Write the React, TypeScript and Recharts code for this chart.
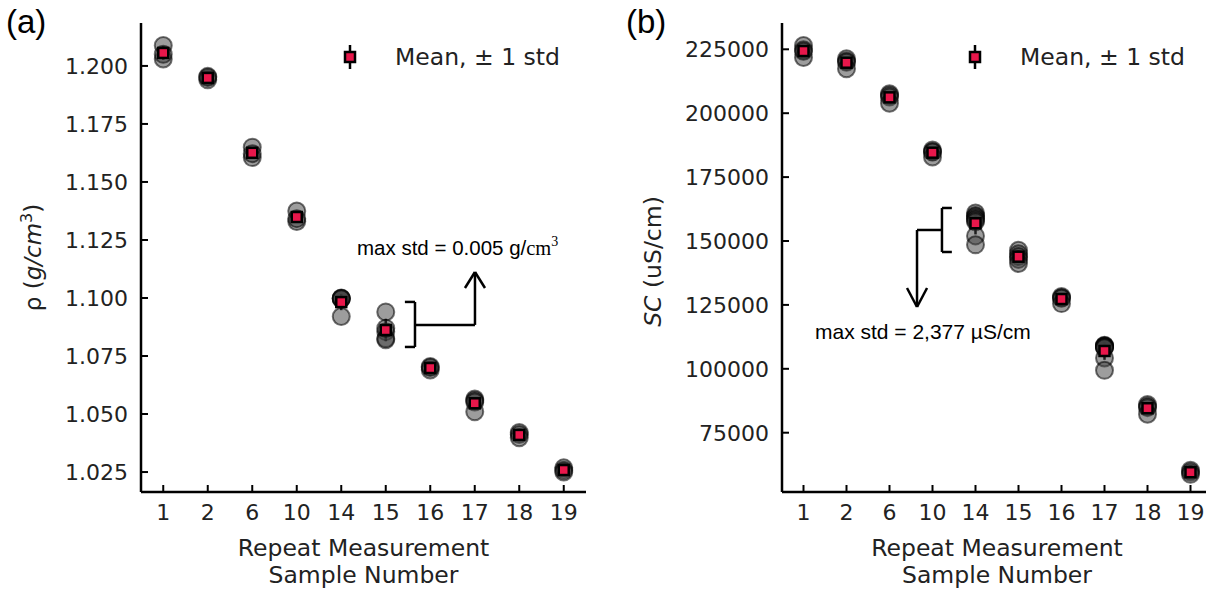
import { ScatterChart, Scatter, XAxis, YAxis, ErrorBar, ReferenceLine, ReferenceDot } from "recharts";

const samples = [1, 2, 6, 10, 14, 15, 16, 17, 18, 19];

// individual repeat measurements per sample
const rhoReplicates = [
  [1.2088, 1.203, 1.205],
  [1.1955, 1.194, 1.195],
  [1.165, 1.1605, 1.1622],
  [1.1375, 1.133, 1.1342],
  [1.1, 1.0998, 1.0996, 1.0998, 1.092],
  [1.094, 1.0855, 1.0825, 1.082, 1.087],
  [1.0705, 1.069, 1.07],
  [1.0565, 1.0558, 1.0552, 1.051],
  [1.042, 1.0412, 1.0398],
  [1.0268, 1.0258, 1.025],
];

const scReplicates = [
  [226500, 224800, 221800, 224200],
  [221300, 220400, 219900, 217400],
  [207600, 207000, 206300, 203900],
  [185600, 184800, 184900, 182900],
  [161000, 160000, 159500, 158800, 158200, 157500, 152000, 148500],
  [146400, 145000, 143900, 142800, 141200],
  [128300, 127800, 127600, 125500],
  [109200, 109000, 108800, 108600, 108400, 108200, 104200, 99400],
  [86000, 85300, 84800, 82200],
  [60300, 59600, 58700],
];

const rhoTicks = [1.025, 1.05, 1.075, 1.1, 1.125, 1.15, 1.175, 1.2];
const scTicks = [75000, 100000, 125000, 150000, 175000, 200000, 225000];

const RED = "#e8174b";
const TXT = "#222";

function points(reps: number[][]) {
  return reps.flatMap((vals, i) => vals.map((v) => ({ x: i, y: v })));
}

function means(reps: number[][]) {
  return reps.map((vals, i) => {
    const m = vals.reduce((a, b) => a + b, 0) / vals.length;
    const sd = Math.sqrt(vals.reduce((a, b) => a + (b - m) * (b - m), 0) / (vals.length - 1));
    return { x: i, y: m, err: sd };
  });
}

const Circle = (p: any) => (
  <circle cx={p.cx} cy={p.cy} r={8.5} fill="rgba(60,60,60,0.5)" stroke="rgba(0,0,0,0.55)" strokeWidth={2} />
);

const MeanSquare = (p: any) => (
  <rect x={p.cx - 5} y={p.cy - 5} width={10} height={10} fill={RED} stroke="#000" strokeWidth={2.5} />
);

const XTick = (p: any) => (
  <g>
    <line x1={p.x} x2={p.x} y1={p.y - 20} y2={p.y - 27} stroke="#000" strokeWidth={2} />
    <text x={p.x} y={p.y} dy="0.36em" textAnchor="middle" fontFamily="DejaVu Sans" fontSize={22} fill={TXT}>
      {samples[p.payload.value]}
    </text>
  </g>
);

const makeYTick = (fmt: (v: number) => string) => (p: any) => (
  <g>
    <line x1={p.x + 13} x2={p.x + 20} y1={p.y} y2={p.y} stroke="#000" strokeWidth={2} />
    <text x={p.x} y={p.y} dy="0.36em" textAnchor="end" fontFamily="DejaVu Sans" fontSize={22} fill={TXT}>
      {fmt(p.payload.value)}
    </text>
  </g>
);

const XLabel = (p: any) => {
  const vb = p.viewBox;
  const cx = vb.x + vb.width / 2;
  return (
    <g fontFamily="DejaVu Sans" fontSize={23.5} fill={TXT} textAnchor="middle">
      <text x={cx} y={vb.y + 56} dy="0.36em">Repeat Measurement</text>
      <text x={cx} y={vb.y + 83} dy="0.36em">Sample Number</text>
    </g>
  );
};

const seg = (x1: number, y1: number, x2: number, y2: number) => (
  <ReferenceLine
    key={`${x1}-${y1}-${x2}-${y2}`}
    segment={[{ x: x1, y: y1 }, { x: x2, y: y2 }]}
    stroke="#000"
    strokeWidth={2.5}
    ifOverflow="visible"
  />
);

const Legend = ({ left }: { left: number }) => (
  <div style={{ position: "absolute", left, top: 40, height: 34, width: 240 }}>
    <svg width={240} height={34} style={{ position: "absolute", left: 0, top: 0 }}>
      <line x1={15} x2={15} y1={5} y2={29} stroke="#000" strokeWidth={2.5} />
      <rect x={10} y={12} width={10} height={10} fill={RED} stroke="#000" strokeWidth={2.5} />
      <text x={60} y={17} dy="0.36em" fontFamily="DejaVu Sans" fontSize={23.5} fill={TXT}>
        Mean, ± 1 std
      </text>
    </svg>
  </div>
);

const panelLabel: React.CSSProperties = {
  position: "absolute",
  top: 2,
  fontFamily: "Liberation Sans, Arial, sans-serif",
  fontSize: 33,
  color: "#000",
  lineHeight: "40px",
};

export default function App() {
  const rhoPts = points(rhoReplicates);
  const rhoMeans = means(rhoReplicates);
  const scPts = points(scReplicates);
  const scMeans = means(scReplicates);

  return (
    <div style={{ position: "absolute", left: 0, top: 0, width: 1206, height: 590, overflow: "hidden", background: "#fff" }}>
      {/* (a) density */}
      <div style={{ position: "absolute", left: 0, top: 0 }}>
        <ScatterChart width={600} height={590} margin={{ top: 23, right: 14, bottom: 0, left: 0 }}>
          <XAxis
            type="number"
            dataKey="x"
            domain={[-0.5, 9.5]}
            ticks={[0, 1, 2, 3, 4, 5, 6, 7, 8, 9]}
            height={98}
            tickSize={0}
            tickMargin={20}
            tickLine={false}
            axisLine={{ stroke: "#000", strokeWidth: 2.5 }}
            tick={<XTick />}
            label={<XLabel />}
          />
          <YAxis
            type="number"
            dataKey="y"
            domain={[1.0164, 1.2185]}
            ticks={rhoTicks}
            width={141}
            tickSize={0}
            tickMargin={13}
            tickLine={false}
            axisLine={{ stroke: "#000", strokeWidth: 2.5 }}
            tick={makeYTick((v) => v.toFixed(3))}
            label={(p: any) => (
              <text
                transform={`translate(33, ${p.viewBox.y + p.viewBox.height / 2}) rotate(-90)`}
                textAnchor="middle"
                dy="0.36em"
                fontFamily="DejaVu Sans"
                fontSize={23}
                fill={TXT}
              >
                ρ (<tspan fontStyle="italic">g/cm</tspan>
                <tspan dy={-9} fontSize={16}>3</tspan>
                <tspan dy={9}>)</tspan>
              </text>
            )}
          />
          <Scatter data={rhoPts} shape={<Circle />} isAnimationActive={false} />
          <Scatter data={rhoMeans} shape={<MeanSquare />} isAnimationActive={false}>
            <ErrorBar dataKey="err" direction="y" width={0} stroke="#000" strokeWidth={2.5} />
          </Scatter>
          {seg(5.43, 1.0983, 5.657, 1.0983)}
          {seg(5.43, 1.0789, 5.657, 1.0789)}
          {seg(5.657, 1.0983, 5.657, 1.0789)}
          {seg(5.657, 1.0884, 7.005, 1.0884)}
          {seg(7.005, 1.0884, 7.005, 1.1112)}
          {seg(6.78, 1.1043, 7.005, 1.1112)}
          {seg(7.23, 1.1043, 7.005, 1.1112)}
          <ReferenceDot
            x={4.354}
            y={1.1216}
            r={0}
            ifOverflow="visible"
            shape={(p: any) => (
              <text x={p.cx} y={p.cy + 7} fontFamily="Liberation Sans, Arial" fontSize={20.5} fill="#000">
                max std = 0.005 g/<tspan fontFamily="Liberation Serif, Times New Roman">cm</tspan>
                <tspan dy={-9} fontSize={14} fontFamily="Liberation Serif, Times New Roman">3</tspan>
              </text>
            )}
          />
        </ScatterChart>
      </div>

      {/* (b) specific conductance */}
      <div style={{ position: "absolute", left: 620, top: 0 }}>
        <ScatterChart width={600} height={590} margin={{ top: 23, right: 8, bottom: 0, left: 0 }}>
          <XAxis
            type="number"
            dataKey="x"
            domain={[-0.5, 9.5]}
            ticks={[0, 1, 2, 3, 4, 5, 6, 7, 8, 9]}
            height={98}
            tickSize={0}
            tickMargin={20}
            tickLine={false}
            axisLine={{ stroke: "#000", strokeWidth: 2.5 }}
            tick={<XTick />}
            label={<XLabel />}
          />
          <YAxis
            type="number"
            dataKey="y"
            domain={[51800, 235290]}
            ticks={scTicks}
            width={162}
            tickSize={0}
            tickMargin={13}
            tickLine={false}
            axisLine={{ stroke: "#000", strokeWidth: 2.5 }}
            tick={makeYTick((v) => String(v))}
            label={(p: any) => (
              <text
                transform={`translate(33, ${p.viewBox.y + p.viewBox.height / 2 + 4}) rotate(-90)`}
                textAnchor="middle"
                dy="0.36em"
                fontFamily="DejaVu Sans"
                fontSize={23.5}
                fill={TXT}
              >
                <tspan fontStyle="italic">SC</tspan> (uS/cm)
              </text>
            )}
          />
          <Scatter data={scPts} shape={<Circle />} isAnimationActive={false} />
          <Scatter data={scMeans} shape={<MeanSquare />} isAnimationActive={false}>
            <ErrorBar dataKey="err" direction="y" width={0} stroke="#000" strokeWidth={2.5} />
          </Scatter>
          {seg(3.45, 162920, 3.22, 162920)}
          {seg(3.45, 145700, 3.22, 145700)}
          {seg(3.22, 162920, 3.22, 145700)}
          {seg(3.22, 154310, 2.64, 154310)}
          {seg(2.64, 154310, 2.64, 124190)}
          {seg(2.407, 131620, 2.64, 124190)}
          {seg(2.873, 131620, 2.64, 124190)}
          <ReferenceDot
            x={0.267}
            y={114410}
            r={0}
            ifOverflow="visible"
            shape={(p: any) => (
              <text x={p.cx} y={p.cy + 7} fontFamily="Liberation Sans, Arial" fontSize={21} fill="#000">
                max std = 2,377 µS/cm
              </text>
            )}
          />
        </ScatterChart>
      </div>

      <Legend left={335} />
      <Legend left={960} />
      <div style={{ ...panelLabel, left: 6 }}>(a)</div>
      <div style={{ ...panelLabel, left: 626 }}>(b)</div>
    </div>
  );
}
